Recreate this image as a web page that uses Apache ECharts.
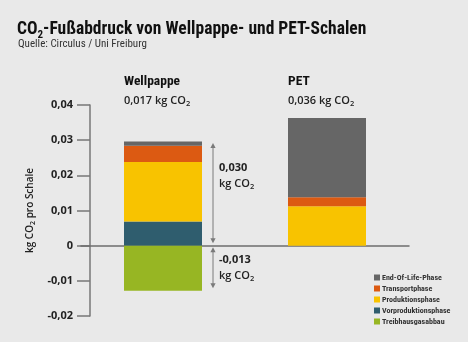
<!DOCTYPE html>
<html><head><meta charset="utf-8">
<script src="https://cdn.jsdelivr.net/npm/echarts@6/dist/echarts.min.js"></script>
<style>html,body{margin:0;padding:0;background:#e9e9e9;}#c{width:468px;height:342px;}</style>
</head><body><div id="c"></div>
<script>
// ---- data ----
const categories = ['Wellpappe', 'PET'];
const vorproduktion = [0.0069, 0];
const produktion = [0.0169, 0.0112];
const transport = [0.0046, 0.0026];
const endOfLife = [0.0012, 0.0225];
const treibhausgasabbau = [-0.0128, 0];
const totals = ['0,017', '0,036'];
const yTicks = [-0.02, -0.01, 0, 0.01, 0.02, 0.03, 0.04];

const seriesNames = ['End-Of-Life-Phase', 'Transportphase', 'Produktionsphase', 'Vorproduktionsphase', 'Treibhausgasabbau'];
const colors = {
  'End-Of-Life-Phase': '#666666',
  'Transportphase': '#dc5a12',
  'Produktionsphase': '#f8c300',
  'Vorproduktionsphase': '#2f5d6e',
  'Treibhausgasabbau': '#97b623'
};

const fmt = v => (Math.abs(v) < 1e-9 ? '0' : v.toFixed(2).replace('.', ','));
const fmt3 = v => v.toFixed(3).replace('.', ',');

// annotation braces (Wellpappe): positive sum and negative part
const posSum = vorproduktion[0] + produktion[0] + transport[0] + endOfLife[0];
const braces = [
  [0, posSum, 0, fmt3(Math.round(posSum * 1000) / 1000)],
  [0, 0, treibhausgasabbau[0], fmt3(Math.round(treibhausgasabbau[0] * 1000) / 1000)]
];

const FONT = 'Open Sans';
const NARROW = 'Roboto Condensed';

const chart = echarts.init(document.getElementById('c'), null, {renderer: 'canvas'});

function bar(name, data) {
  return {
    name, type: 'bar', stack: 'total', data, barWidth: 78,
    itemStyle: {color: colors[name]}, z: 3
  };
}

const option = {
  backgroundColor: '#e9e9e9',
  animation: false,
  title: [{
    text: '{a|CO}{s|2}{a|-Fußabdruck von Wellpappe- und PET-Schalen}',
    left: 17, top: 19, padding: 0,
    textStyle: {
      rich: {
        a: {fontFamily: NARROW, fontWeight: 'bold', fontSize: 17.5, color: '#111', lineHeight: 22},
        s: {fontFamily: NARROW, fontWeight: 'bold', fontSize: 11, color: '#111', lineHeight: 22, padding: [10, 0, 0, 0]}
      }
    }
  }, {
    text: 'Quelle: Circulus / Uni Freiburg',
    left: 18, top: 38, padding: 0,
    textStyle: {fontFamily: NARROW, fontWeight: 'normal', fontSize: 11, color: '#333', lineHeight: 13}
  }],
  legend: {
    orient: 'vertical', left: 374, top: 273.5, padding: 0,
    data: seriesNames, icon: 'rect', itemWidth: 6, itemHeight: 6, itemGap: 3,
    textStyle: {fontFamily: NARROW, fontWeight: 'bold', fontSize: 8, color: '#333', padding: [0, 0, 0, -3]}
  },
  grid: {left: 81, right: 59, top: 105, bottom: 26},
  xAxis: [{
    type: 'category', data: categories, position: 'bottom',
    axisLine: {onZero: true, lineStyle: {color: '#6e6e6e', width: 1.5}},
    axisTick: {show: false}, axisLabel: {show: false}, z: 2
  }, {
    type: 'category', data: categories, position: 'top',
    axisLine: {show: false}, axisTick: {show: false},
    axisLabel: {
      margin: -5, width: 78, align: 'center',
      formatter: (v, i) => '{n|' + v + '}\n{v|' + totals[i] + ' kg CO}{s|2}',
      rich: {
        n: {fontFamily: NARROW, fontWeight: 'bold', fontSize: 13.5, color: '#111', align: 'left', lineHeight: 19},
        v: {fontFamily: FONT, fontWeight: 600, fontSize: 11, color: '#222', align: 'left', lineHeight: 19},
        s: {fontFamily: FONT, fontWeight: 600, fontSize: 7.5, color: '#222', align: 'left', lineHeight: 19, padding: [6, 0, 0, 0]}
      }
    }
  }],
  yAxis: {
    type: 'value', min: yTicks[0], max: yTicks[yTicks.length - 1], interval: 0.01,
    offset: -9,
    axisLine: {show: true, lineStyle: {color: '#777', width: 1.5}},
    axisTick: {show: true, length: 13, lineStyle: {color: '#777', width: 1.5}},
    splitLine: {show: false},
    axisLabel: {formatter: fmt, fontFamily: FONT, fontWeight: 'bold', fontSize: 11, color: '#222', margin: 17},
    name: '{a|kg CO}{s|2}{a| pro Schale}',
    nameLocation: 'middle', nameRotate: 90, nameGap: 54,
    nameTextStyle: {
      rich: {
        a: {fontFamily: FONT, fontWeight: 600, fontSize: 10, color: '#222'},
        s: {fontFamily: FONT, fontWeight: 600, fontSize: 7, color: '#222', padding: [5, 0, 0, 0]}
      }
    }
  },
  series: [
    bar('Vorproduktionsphase', vorproduktion),
    bar('Produktionsphase', produktion),
    bar('Transportphase', transport),
    bar('End-Of-Life-Phase', endOfLife),
    bar('Treibhausgasabbau', treibhausgasabbau),
    {
      type: 'custom', data: braces, z: 5, silent: true,
      encode: {x: 0, y: [1, 2]},
      renderItem: (params, api) => {
        const cat = api.value(0);
        const p1 = api.coord([cat, api.value(1)]);
        const p2 = api.coord([cat, api.value(2)]);
        const x = p1[0] + 50;
        const top = Math.min(p1[1], p2[1]) + 1.5;
        const bot = Math.max(p1[1], p2[1]) - 2.5;
        const col = '#7a7a7a';
        const mid = (top + bot) / 2;
        const ty = Math.min(top + 17, mid - 16);
        return {
          type: 'group', children: [
            {type: 'line', shape: {x1: x, y1: top + 4, x2: x, y2: bot - 4}, style: {stroke: col, lineWidth: 1}},
            {type: 'polygon', shape: {points: [[x, top], [x - 2.6, top + 5], [x + 2.6, top + 5]]}, style: {fill: col}},
            {type: 'polygon', shape: {points: [[x, bot], [x - 2.6, bot - 5], [x + 2.6, bot - 5]]}, style: {fill: col}},
            {type: 'text', x: x + 6, y: ty, style: {
              text: '{v|' + api.value(3) + '}\n{u|kg CO}{s|2}',
              rich: {
                v: {fontFamily: FONT, fontWeight: 'bold', fontSize: 11, fill: '#222', lineHeight: 16},
                u: {fontFamily: FONT, fontWeight: 600, fontSize: 11, fill: '#222', lineHeight: 16},
                s: {fontFamily: FONT, fontWeight: 600, fontSize: 7.5, fill: '#222', lineHeight: 16, padding: [6, 0, 0, 0]}
              }
            }}
          ]
        };
      }
    }
  ]
};
chart.setOption(option);
</script>
</body></html>
